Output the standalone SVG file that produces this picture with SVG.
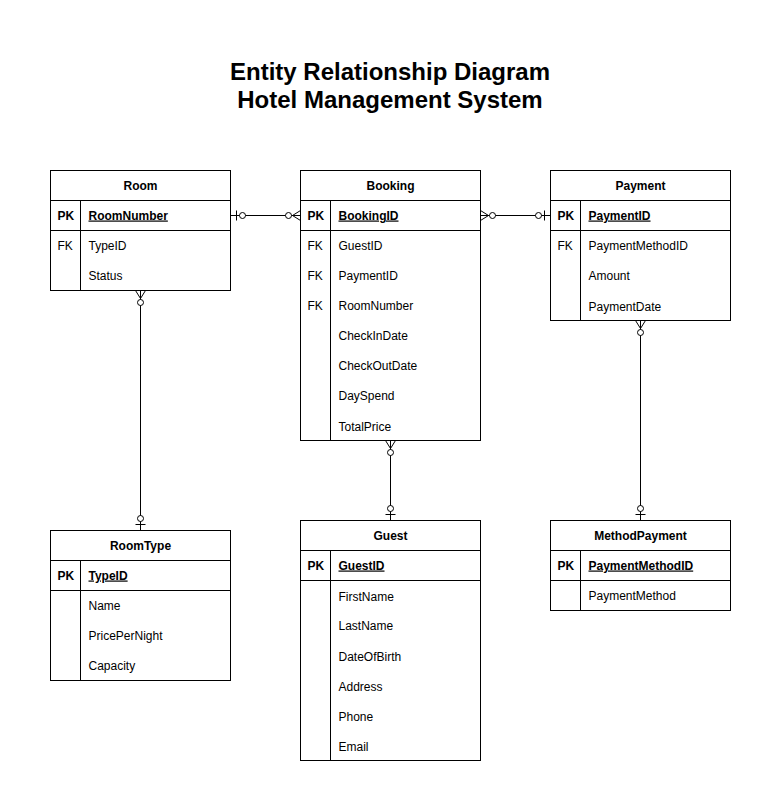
<svg xmlns="http://www.w3.org/2000/svg" width="781" height="811" viewBox="0 0 781 811">
<style>
.box{fill:#fff;stroke:#000;stroke-width:1}
.ln{stroke:#000;stroke-width:1;fill:none}
.t{font-family:"Liberation Sans",Arial,sans-serif;font-size:12px;fill:#000}
.h{font-weight:bold;text-anchor:middle}
.b{font-weight:bold}
.u{text-decoration:underline}
.title{font-family:"Liberation Sans",Arial,sans-serif;font-size:24px;font-weight:bold;text-anchor:middle;fill:#000}
.c{fill:#fff;stroke:#000;stroke-width:1}
</style>
<rect width="781" height="811" fill="#fff"/>
<text class="title" x="390" y="80">Entity Relationship Diagram</text>
<text class="title" x="390" y="108">Hotel Management System</text>

<g id="connectors" transform="translate(0.5,0.5)">
  <!-- Room - Booking -->
  <path class="ln" d="M230 215 H300"/>
  <path class="ln" d="M236 210 V220"/>
  <circle class="c" cx="242" cy="215" r="3"/>
  <path class="ln" d="M300 210 L292 215 L300 220"/>
  <circle class="c" cx="288" cy="215" r="3"/>
  <!-- Booking - Payment -->
  <path class="ln" d="M480 215 H550"/>
  <path class="ln" d="M480 210 L488 215 L480 220"/>
  <circle class="c" cx="492" cy="215" r="3"/>
  <path class="ln" d="M544 210 V220"/>
  <circle class="c" cx="538" cy="215" r="3"/>
  <!-- Room - RoomType -->
  <path class="ln" d="M140 290 V530"/>
  <path class="ln" d="M135 290 L140 298 L145 290"/>
  <circle class="c" cx="140" cy="302" r="3"/>
  <circle class="c" cx="140" cy="518" r="3"/>
  <path class="ln" d="M135 524 H145"/>
  <!-- Booking - Guest -->
  <path class="ln" d="M390 440 V520"/>
  <path class="ln" d="M385 440 L390 448 L395 440"/>
  <circle class="c" cx="390" cy="452" r="3"/>
  <circle class="c" cx="390" cy="508" r="3"/>
  <path class="ln" d="M385 514 H395"/>
  <!-- Payment - MethodPayment -->
  <path class="ln" d="M640 320 V520"/>
  <path class="ln" d="M635 320 L640 328 L645 320"/>
  <circle class="c" cx="640" cy="332" r="3"/>
  <circle class="c" cx="640" cy="508" r="3"/>
  <path class="ln" d="M635 514 H645"/>
</g>

<g id="room" transform="translate(0.5,0.5)">
  <rect class="box" x="50" y="170" width="180" height="120"/>
  <path class="ln" d="M50 200 H230 M50 230 H230 M80 200 V290"/>
  <text class="t h" x="140" y="189">Room</text>
  <text class="t b" x="57" y="219">PK</text>
  <text class="t b u" x="88" y="219">RoomNumber</text>
  <text class="t" x="57" y="249">FK</text>
  <text class="t" x="88" y="249">TypeID</text>
  <text class="t" x="88" y="279">Status</text>
</g>

<g id="booking" transform="translate(0.5,0.5)">
  <rect class="box" x="300" y="170" width="180" height="270"/>
  <path class="ln" d="M300 200 H480 M300 230 H480 M330 200 V440"/>
  <text class="t h" x="390" y="189">Booking</text>
  <text class="t b" x="307" y="219">PK</text>
  <text class="t b u" x="338" y="219">BookingID</text>
  <text class="t" x="307" y="249">FK</text>
  <text class="t" x="338" y="249">GuestID</text>
  <text class="t" x="307" y="279">FK</text>
  <text class="t" x="338" y="279">PaymentID</text>
  <text class="t" x="307" y="309">FK</text>
  <text class="t" x="338" y="309">RoomNumber</text>
  <text class="t" x="338" y="339">CheckInDate</text>
  <text class="t" x="338" y="369">CheckOutDate</text>
  <text class="t" x="338" y="399">DaySpend</text>
  <text class="t" x="338" y="430">TotalPrice</text>
</g>

<g id="payment" transform="translate(0.5,0.5)">
  <rect class="box" x="550" y="170" width="180" height="150"/>
  <path class="ln" d="M550 200 H730 M550 230 H730 M580 200 V320"/>
  <text class="t h" x="640" y="189">Payment</text>
  <text class="t b" x="557" y="219">PK</text>
  <text class="t b u" x="588" y="219">PaymentID</text>
  <text class="t" x="557" y="249">FK</text>
  <text class="t" x="588" y="249">PaymentMethodID</text>
  <text class="t" x="588" y="279">Amount</text>
  <text class="t" x="588" y="310">PaymentDate</text>
</g>

<g id="roomtype" transform="translate(0.5,0.5)">
  <rect class="box" x="50" y="530" width="180" height="150"/>
  <path class="ln" d="M50 560 H230 M50 590 H230 M80 560 V680"/>
  <text class="t h" x="140" y="549">RoomType</text>
  <text class="t b" x="57" y="579">PK</text>
  <text class="t b u" x="88" y="579">TypeID</text>
  <text class="t" x="88" y="609">Name</text>
  <text class="t" x="88" y="639">PricePerNight</text>
  <text class="t" x="88" y="669">Capacity</text>
</g>

<g id="guest" transform="translate(0.5,0.5)">
  <rect class="box" x="300" y="520" width="180" height="240"/>
  <path class="ln" d="M300 550 H480 M300 580 H480 M330 550 V760"/>
  <text class="t h" x="390" y="539">Guest</text>
  <text class="t b" x="307" y="569">PK</text>
  <text class="t b u" x="338" y="569">GuestID</text>
  <text class="t" x="338" y="600">FirstName</text>
  <text class="t" x="338" y="629">LastName</text>
  <text class="t" x="338" y="660">DateOfBirth</text>
  <text class="t" x="338" y="690">Address</text>
  <text class="t" x="338" y="720">Phone</text>
  <text class="t" x="338" y="750">Email</text>
</g>

<g id="methodpayment" transform="translate(0.5,0.5)">
  <rect class="box" x="550" y="520" width="180" height="90"/>
  <path class="ln" d="M550 550 H730 M550 580 H730 M580 550 V610"/>
  <text class="t h" x="640" y="539">MethodPayment</text>
  <text class="t b" x="557" y="569">PK</text>
  <text class="t b u" x="588" y="569">PaymentMethodID</text>
  <text class="t" x="588" y="599">PaymentMethod</text>
</g>
</svg>
